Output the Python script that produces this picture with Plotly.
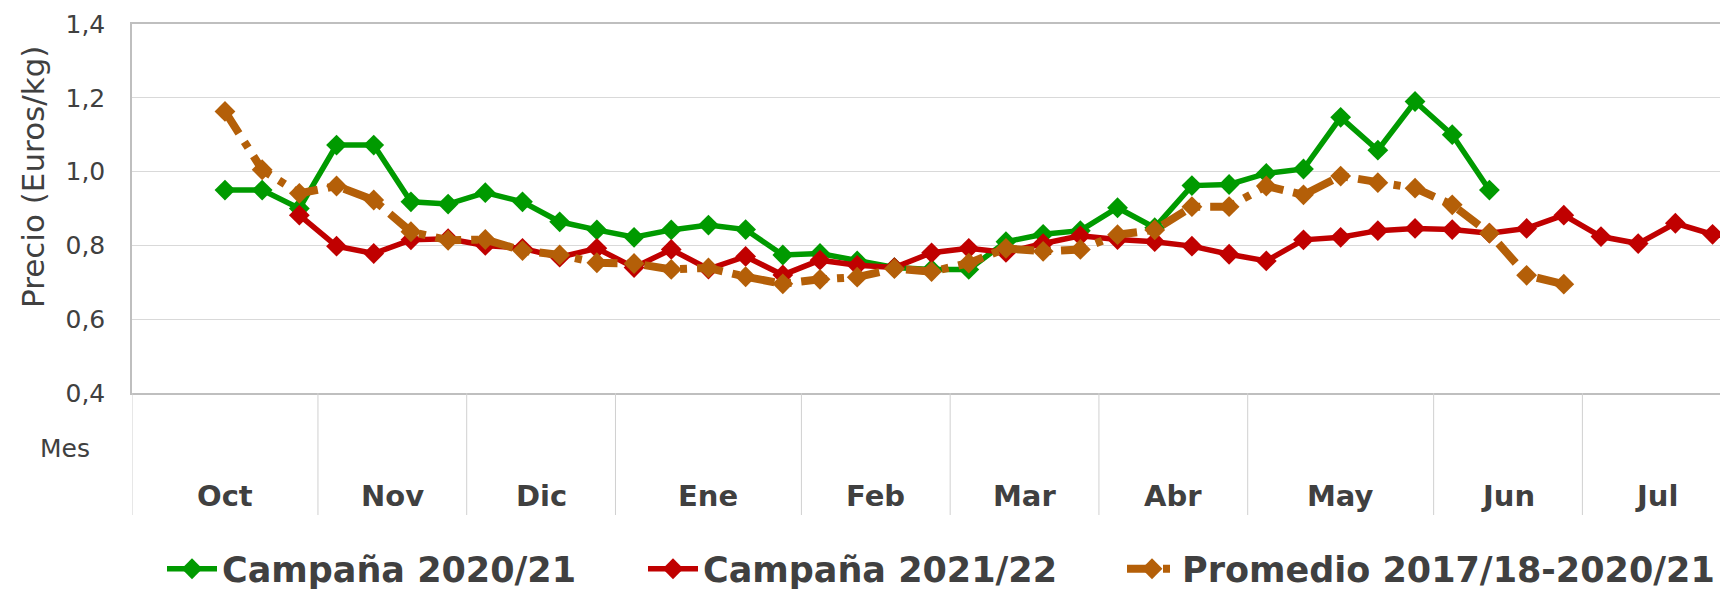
import plotly.graph_objects as go

months = ["Oct", "Nov", "Dic", "Ene", "Feb", "Mar", "Abr", "May", "Jun", "Jul"]
weeks_per_month = [5, 4, 4, 5, 4, 4, 4, 5, 4, 4]

# una categoria por semana
weeks = [f"{m} s{k + 1}" for m, n in zip(months, weeks_per_month) for k in range(n)]

campana_2021 = [None, None,
                0.950, 0.950, 0.900, 1.072, 1.072, 0.918, 0.912, 0.943, 0.918, 0.864,
                0.842, 0.822, 0.842, 0.855, 0.843, 0.774, 0.778, 0.758, 0.740, 0.735,
                0.735, 0.810, 0.830, 0.840, 0.902, 0.848, 0.962, 0.965, 0.995, 1.007,
                1.147, 1.058, 1.190, 1.100, 0.950]

campana_2122 = [None, None, None, None,
                0.882, 0.798, 0.778, 0.815, 0.818, 0.800, 0.792, 0.768, 0.792, 0.740,
                0.789, 0.736, 0.770, 0.720, 0.760, 0.746, 0.740, 0.780, 0.792, 0.781,
                0.805, 0.826, 0.816, 0.810, 0.798, 0.776, 0.758, 0.815, 0.822, 0.840,
                0.846, 0.843, 0.833, 0.846, 0.882, 0.824, 0.805, 0.860, 0.830]

promedio = [None, None,
            1.163, 1.005, 0.941, 0.961, 0.923, 0.837, 0.814, 0.816, 0.786, 0.774,
            0.753, 0.751, 0.735, 0.739, 0.715, 0.696, 0.708, 0.714, 0.737, 0.729,
            0.752, 0.792, 0.784, 0.789, 0.829, 0.842, 0.905, 0.905, 0.961, 0.937,
            0.988, 0.970, 0.955, 0.910, 0.833, 0.719, 0.695]

series_names = ["Campaña 2020/21", "Campaña 2021/22", "Promedio 2017/18-2020/21"]

GREEN = "#009a00"
RED = "#c00000"
BROWN = "#b45f08"
TEXT = "#404040"
FONT = "DejaVu Sans"

W, H = 1720, 590
ML, MT, MB = 132, 24, 197
plot_h = H - MT - MB
plot_w = W - ML
base = H - MB  # pixel del eje x

fig = go.Figure()
fig.add_trace(go.Scatter(
    x=weeks, y=campana_2021, name=series_names[0], mode="lines+markers",
    line=dict(color=GREEN, width=5.5), legend="legend",
    marker=dict(symbol="diamond", size=16, color=GREEN)))
fig.add_trace(go.Scatter(
    x=weeks, y=campana_2122, name=series_names[1], mode="lines+markers",
    line=dict(color=RED, width=5.5), legend="legend2",
    marker=dict(symbol="diamond", size=16, color=RED)))
fig.add_trace(go.Scatter(
    x=weeks, y=promedio, name=series_names[2], mode="lines+markers",
    line=dict(color=BROWN, width=8, dash="26px,10px,7px,10px"), legend="legend3",
    marker=dict(symbol="diamond", size=16, color=BROWN)))

# separadores de mes y etiquetas bajo el eje
sep_bottom = -(515 - base) / plot_h
label_y = -(496 - base) / plot_h
shapes = []
annotations = []
start = 0
for m, n in zip(months, weeks_per_month):
    shapes.append(dict(type="line", xref="x", yref="paper",
                       x0=start - 0.5, x1=start - 0.5, y0=0, y1=sep_bottom,
                       line=dict(color="#d0d0d0", width=1)))
    annotations.append(dict(text=m, xref="x", yref="paper",
                            x=start + (n - 1) / 2, y=label_y, showarrow=False,
                            xanchor="center", yanchor="middle",
                            font=dict(family=FONT, size=29, color=TEXT, weight="bold")))
    start += n

annotations.append(dict(text="Mes", xref="paper", yref="paper",
                        x=(65 - ML) / plot_w, y=-(448 - base) / plot_h,
                        xanchor="center", yanchor="middle",
                        showarrow=False, font=dict(family=FONT, size=25, color=TEXT)))
annotations.append(dict(text="Precio (Euros/kg)", xref="paper", yref="paper",
                        x=(33 - ML) / plot_w, y=(base - 177) / plot_h,
                        xanchor="center", yanchor="middle",
                        textangle=-90, showarrow=False,
                        font=dict(family=FONT, size=31, color=TEXT)))


def legend_at(px):
    return dict(orientation="h", xref="container", yref="container",
                x=px / W, xanchor="left", y=1 - 569 / H, yanchor="middle",
                bgcolor="rgba(0,0,0,0)",
                font=dict(family=FONT, size=35, color=TEXT, weight="bold"),
                itemwidth=50)


fig.update_layout(
    width=W, height=H,
    margin=dict(l=ML, r=0, t=MT, b=MB),
    paper_bgcolor="white", plot_bgcolor="white",
    separators=",.",
    showlegend=True,
    legend=legend_at(162),
    legend2=legend_at(643),
    legend3=legend_at(1122),
    shapes=shapes,
    annotations=annotations,
)
fig.update_xaxes(type="category", range=[-0.5, 42.2], showticklabels=False,
                 showgrid=False, showline=True, linecolor="#bfbfbf", linewidth=1.5,
                 mirror=True, ticks="", zeroline=False, automargin=False)
fig.update_yaxes(range=[0.4, 1.4], dtick=0.2, tickformat=".1f",
                 showgrid=True, gridcolor="#d9d9d9", gridwidth=1,
                 showline=True, linecolor="#bfbfbf", linewidth=1.5,
                 ticks="", ticklabelstandoff=20, zeroline=False, automargin=False,
                 tickfont=dict(family=FONT, size=25, color=TEXT))

# sin margen del body para que la figura ocupe la ventana entera
fig.write_html("out.html", config={"displayModeBar": False},
               post_script="document.body.style.margin = '0';")
